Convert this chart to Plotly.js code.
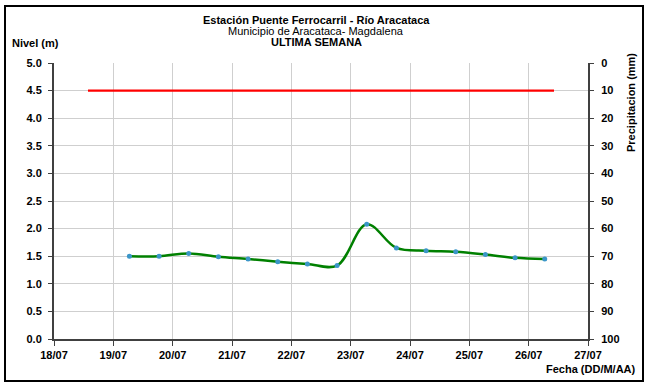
<!DOCTYPE html>
<html>
<head>
<meta charset="utf-8">
<script src="https://cdn.plot.ly/plotly-3.0.1.min.js"></script>
<style>
html,body{margin:0;padding:0;background:#fff;}
#chart{width:648px;height:383px;}
</style>
</head>
<body>
<div id="chart"></div>
<script>
// Data
const fechas = [
  '2014-07-19 06:30','2014-07-19 18:30','2014-07-20 06:30','2014-07-20 18:30',
  '2014-07-21 06:30','2014-07-21 18:30','2014-07-22 06:30','2014-07-22 18:30',
  '2014-07-23 06:30','2014-07-23 18:30','2014-07-24 06:30','2014-07-24 18:30',
  '2014-07-25 06:30','2014-07-25 18:30','2014-07-26 06:30'
];
const nivel = [1.50,1.50,1.55,1.49,1.45,1.40,1.36,1.33,2.08,1.65,1.60,1.58,1.53,1.47,1.45];
const alertaFechas = ['2014-07-18 13:45','2014-07-26 10:15'];
const alertaNivel = [4.5, 4.5];
const precipFechas = [];
const precipitacion = [];

const titulo1 = 'Estación Puente Ferrocarril - Río Aracataca';
const titulo2 = 'Municipio de Aracataca- Magdalena';
const titulo3 = 'ULTIMA SEMANA';

// pixel helpers for annotations (plot area 54..588 x 63..339)
const L = 54, R = 588, T = 63, B = 339;
const px = x => (x - L) / (R - L);
const py = y => (B - y) / (B - T);

const FONT = 'Liberation Sans, Arial, sans-serif';

const traces = [
  {
    x: alertaFechas, y: alertaNivel, type: 'scatter', mode: 'lines',
    line: {color: '#ff0000', width: 2.2}, hoverinfo: 'skip', showlegend: false
  },
  {
    x: fechas, y: nivel, type: 'scatter', mode: 'lines+markers',
    line: {color: '#008000', width: 2.5, shape: 'spline', smoothing: 1},
    marker: {color: '#3b96c8', size: 5},
    showlegend: false
  },
  {
    x: precipFechas, y: precipitacion, type: 'bar', yaxis: 'y2',
    marker: {color: '#4f81bd'}, showlegend: false
  }
];

const layout = {
  width: 648, height: 383,
  margin: {l: L, r: 648 - R, t: T, b: 383 - B, pad: 0},
  paper_bgcolor: '#ffffff', plot_bgcolor: '#ffffff',
  font: {family: FONT, size: 11, color: '#000'},
  showlegend: false,
  xaxis: {
    type: 'date',
    range: ['2014-07-18', '2014-07-27'],
    dtick: 86400000, tick0: '2014-07-18',
    tickformat: '%d/%m',
    showgrid: true, gridcolor: '#cfcfcf', gridwidth: 1,
    showline: true, linecolor: '#404040', linewidth: 2,
    ticks: 'outside', ticklen: 5, tickcolor: '#404040', tickwidth: 1,
    tickfont: {family: FONT, size: 11, color: '#000', weight: 'bold'},
    zeroline: false, fixedrange: true
  },
  yaxis: {
    range: [0, 5], dtick: 0.5, tickformat: '.1f',
    showgrid: true, gridcolor: '#cfcfcf', gridwidth: 1,
    showline: true, linecolor: '#404040', linewidth: 2,
    ticks: 'outside', ticklen: 4, tickcolor: '#404040', tickwidth: 1,
    ticklabelstandoff: 4,
    tickfont: {family: FONT, size: 11, color: '#000', weight: 'bold'},
    zeroline: false, fixedrange: true
  },
  yaxis2: {
    overlaying: 'y', side: 'right',
    range: [100, 0], autorange: false, dtick: 10,
    showgrid: false,
    showline: true, linecolor: '#404040', linewidth: 2,
    ticks: 'outside', ticklen: 4, tickcolor: '#404040', tickwidth: 1,
    ticklabelstandoff: 5,
    tickfont: {family: FONT, size: 11, color: '#000', weight: 'bold'},
    zeroline: false, fixedrange: true
  },
  shapes: [
    {type: 'rect', xref: 'paper', yref: 'paper',
     x0: px(5), x1: px(643), y0: py(381), y1: py(6),
     line: {color: '#000', width: 2}, fillcolor: 'rgba(0,0,0,0)', layer: 'below'}
  ],
  annotations: [
    {text: '<b>' + titulo1 + '</b>', xref: 'paper', yref: 'paper', x: px(316), y: py(20),
     showarrow: false, xanchor: 'center', yanchor: 'middle', font: {family: FONT, size: 11}},
    {text: titulo2, xref: 'paper', yref: 'paper', x: px(316), y: py(31),
     showarrow: false, xanchor: 'center', yanchor: 'middle', font: {family: FONT, size: 11}},
    {text: '<b>' + titulo3 + '</b>', xref: 'paper', yref: 'paper', x: px(316), y: py(42),
     showarrow: false, xanchor: 'center', yanchor: 'middle', font: {family: FONT, size: 11}},
    {text: '<b>Nivel (m)</b>', xref: 'paper', yref: 'paper', x: px(10), y: py(43),
     showarrow: false, xanchor: 'left', yanchor: 'middle', font: {family: FONT, size: 11}},
    {text: '<b>Precipitacion (mm)</b>', xref: 'paper', yref: 'paper', x: px(631), y: py(103),
     showarrow: false, xanchor: 'center', yanchor: 'middle', textangle: -90,
     font: {family: FONT, size: 11}},
    {text: '<b>Fecha (DD/M/AA)</b>', xref: 'paper', yref: 'paper', x: px(638), y: py(369),
     showarrow: false, xanchor: 'right', yanchor: 'middle', font: {family: FONT, size: 11}}
  ]
};

Plotly.newPlot('chart', traces, layout, {displayModeBar: false, staticPlot: true});
</script>
</body>
</html>
